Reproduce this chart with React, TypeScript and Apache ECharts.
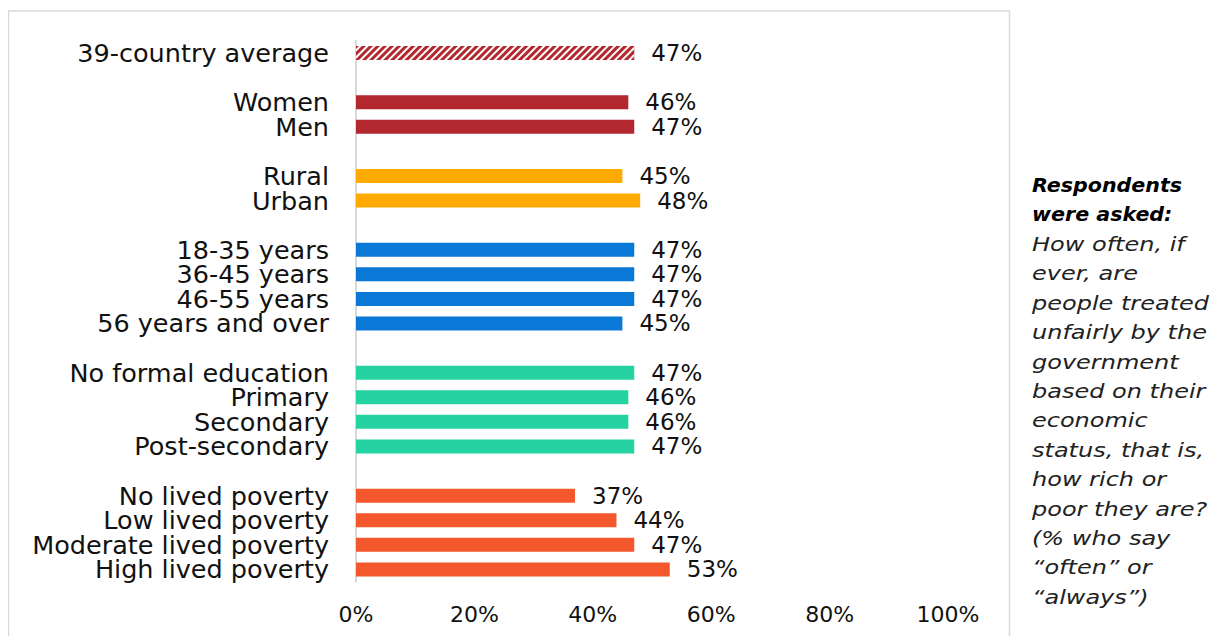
import React, { useEffect, useRef } from "react";
import * as echarts from "echarts";

const categories = [
  "39-country average", "",
  "Women", "Men", "",
  "Rural", "Urban", "",
  "18-35 years", "36-45 years", "46-55 years", "56 years and over", "",
  "No formal education", "Primary", "Secondary", "Post-secondary", "",
  "No lived poverty", "Low lived poverty", "Moderate lived poverty", "High lived poverty",
];
const values: (number | null)[] = [
  47, null,
  46, 47, null,
  45, 48, null,
  47, 47, 47, 45, null,
  47, 46, 46, 47, null,
  37, 44, 47, 53,
];
const groupColors = [
  "#B3282F", null,
  "#B3282F", "#B3282F", null,
  "#FFAA00", "#FFAA00", null,
  "#0A78D6", "#0A78D6", "#0A78D6", "#0A78D6", null,
  "#25D2A1", "#25D2A1", "#25D2A1", "#25D2A1", null,
  "#F4572B", "#F4572B", "#F4572B", "#F4572B",
];
const xTicks = [0, 20, 40, 60, 80, 100];
const noteBold = ["Respondents", "were asked:"];
const noteItalic = [
  "How often, if", "ever, are", "people treated", "unfairly by the", "government",
  "based on their", "economic", "status, that is,", "how rich or", "poor they are?",
  "(% who say", "\u201coften\u201d or", "\u201calways\u201d)",
];

const FONT = "'DejaVu Sans', sans-serif";

export default function App() {
  const ref = useRef<HTMLDivElement>(null);
  useEffect(() => {
    if (!ref.current) return;
    const chart = echarts.init(ref.current, null, { renderer: "svg" });
    const data = values.map((v, i) => {
      if (v === null) return { value: "-" as any };
      const item: any = { value: v, itemStyle: { color: groupColors[i] } };
      if (i === 0) {
        item.itemStyle.decal = {
          symbol: "rect",
          symbolSize: 1,
          color: "#ffffff",
          dashArrayX: [1, 0],
          dashArrayY: [2, 2.5],
          rotation: -Math.PI / 4,
        };
      }
      return item;
    });
    const lh = 29.4;
    const graphics: any[] = [
      {
        type: "rect",
        shape: { x: 0.5, y: 3, width: 1001, height: 660 },
        style: { fill: "none", stroke: "#D9D9D9", lineWidth: 1.5 },
        silent: true,
      },
    ];
    noteBold.forEach((t, i) => {
      graphics.push({
        type: "text",
        x: 1024,
        y: 177 + i * lh,
        scaleX: 1.03,
        style: {
          text: t,
          font: `italic bold 20px ${FONT}`,
          fill: "#000",
          lineHeight: 26,
          textVerticalAlign: "middle",
          verticalAlign: "middle",
        },
      });
    });
    noteItalic.forEach((t, i) => {
      graphics.push({
        type: "text",
        x: 1024,
        y: 177 + (i + 2) * lh,
        scaleX: 1.2,
        style: {
          text: t,
          font: `italic 20px ${FONT}`,
          fill: "#222",
          lineHeight: 26,
          textVerticalAlign: "middle",
          verticalAlign: "middle",
        },
      });
    });
    chart.setOption({
      animation: false,
      grid: { left: 348, width: 592, top: 32.7, height: 541, containLabel: false },
      xAxis: {
        type: "value",
        min: 0,
        max: 100,
        interval: 20,
        axisLine: { show: false },
        axisTick: { show: false },
        splitLine: { show: false },
        axisLabel: {
          margin: 22,
          fontSize: 22,
          fontFamily: FONT,
          color: "#111",
          formatter: (v: number) => (xTicks.includes(v) ? `${v}%` : ""),
        },
      },
      yAxis: {
        type: "category",
        inverse: true,
        data: categories,
        axisLine: { show: true, lineStyle: { color: "#D9D9D9", width: 2 } },
        axisTick: { show: false },
        axisLabel: {
          interval: 0,
          margin: 27,
          fontSize: 25.5,
          lineHeight: 23,
          fontFamily: FONT,
          color: "#111",
        },
      },
      series: [
        {
          type: "bar",
          data,
          barWidth: 14,
          label: {
            show: true,
            position: "right",
            distance: 17,
            fontSize: 23,
            lineHeight: 23,
            fontFamily: FONT,
            color: "#111",
            formatter: (p: any) => `${p.value}%`,
          },
        },
      ],
      graphic: graphics,
    });
    return () => chart.dispose();
  }, []);
  return <div ref={ref} style={{ width: 1202, height: 628 }} />;
}
